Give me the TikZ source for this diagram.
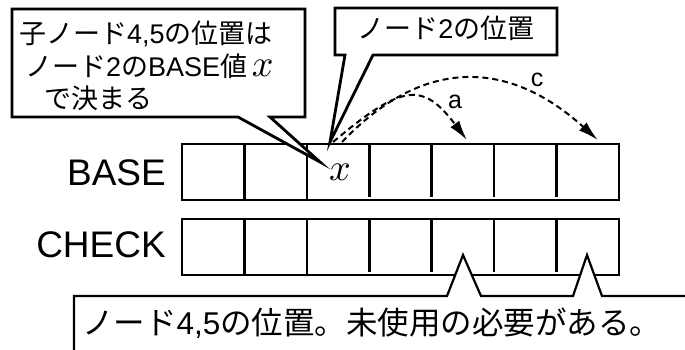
\documentclass[tikz,border=0pt]{standalone}
\usepackage{fontspec}
\setmainfont{Liberation Sans}
\newfontfamily\jp{Noto Sans CJK JP}
\usetikzlibrary{arrows.meta}
\newcommand{\bigx}{{\fontsize{10}{12}\selectfont\scalebox{3.8}{$x$}}}
\begin{document}
\begin{tikzpicture}[x=1pt,y=-1pt,
  cell/.style={minimum width=62.43pt,minimum height=56pt,inner sep=0pt,outer sep=0pt},
  frame/.style={line width=2.5pt},
  callout/.style={line width=2.8pt,fill=white,line join=miter},
  callthin/.style={line width=2.2pt,fill=white,line join=miter},
  jump/.style={line width=2pt,dash pattern=on 6pt off 4pt,-{Latex[length=20pt,width=11pt]}},
  lbl/.style={font=\fontsize{37}{40}\selectfont,anchor=east,inner sep=0pt},
  jpt/.style={font=\fontsize{27}{30}\selectfont,inner sep=0pt},
  big/.style={font=\fontsize{31.5}{34}\selectfont,inner sep=0pt},
  small/.style={font=\fontsize{25}{28}\selectfont,inner sep=0pt}]
\useasboundingbox (0,0) rectangle (685,349);
\clip (0,0) rectangle (685,349);
\fill[white] (0,0) rectangle (685,349);
% cells
\foreach \i in {1,...,7} {
  \node[cell] (b\i) at ({182+62.43*(\i-0.5)},172) {};
  \node[cell] (c\i) at ({182+62.43*(\i-0.5)},247) {};
}
\draw[frame] (b1.north west) rectangle (b7.south east);
\draw[frame] (c1.north west) rectangle (c7.south east);
\foreach \i in {1,2} {
  \draw[frame] (b\i.north east) -- (b\i.south east);
  \draw[frame] (c\i.north east) -- (c\i.south east);
}
\foreach \i in {3,...,6} {
  \draw[frame] (b\i.north east) -- ([yshift=3pt]b\i.south east);
  \draw[frame] (c\i.north east) -- ([yshift=3pt]c\i.south east);
}
\node[inner sep=0pt] (xval) at ([xshift=2pt]b3.center) {\bigx};
% row labels
\node[lbl] (base) at (166,172.5) {BASE};
\node[lbl] (check) at (166,244.5) {CHECK};
% callouts
\draw[callout] (12,9) -- (305,9) -- (305,117) -- (270,117) -- (320,162) -- (238,117) -- (12,117) -- cycle;
\draw[callout] (335,8) -- (557,8) -- (557,55) -- (373,55) -- (330,142) -- (345,55) -- (335,55) -- cycle;
\draw[callthin] (74,296) -- (447,296) -- (463,255) -- (481,296) -- (573,296) -- (587,255) -- (602,296) -- (700,296) -- (700,360) -- (74,360) -- cycle;
% callout texts
\node[jpt,anchor=west] (t1) at (19,34) {{\jp 子ノード}4,5{\jp の位置は}};
\node[jpt,anchor=west] (t2) at (25,66) {{\jp ノード}2{\jp の}BASE{\jp 値}\,\bigx};
\node[jpt,anchor=west] (t3) at (44,98) {{\jp で決まる}};
\node[jpt] (t4) at (446,28) {{\jp ノード}2{\jp の位置}};
\node[big,anchor=west] (t5) at (82,323) {{\jp ノード}4,5{\jp の位置。未使用の必要がある。}};
% jumps
\coordinate (as) at ([xshift=-5pt,yshift=2pt]b3.north);
\coordinate (cs) at ([xshift=4pt,yshift=2pt]b3.north);
\coordinate (ae) at ([xshift=4pt,yshift=4pt]b5.north);
\coordinate (ce) at ([xshift=10pt,yshift=4pt]b7.north);
\draw[jump] (as) .. controls (403,83) and (423,82) .. (ae);
\draw[jump] (cs) .. controls (420,60) and (505,56) .. (ce);
\node[small] (la) at (455,102) {a};
\node[small] (lc) at (537,80) {c};
\end{tikzpicture}
\end{document}
